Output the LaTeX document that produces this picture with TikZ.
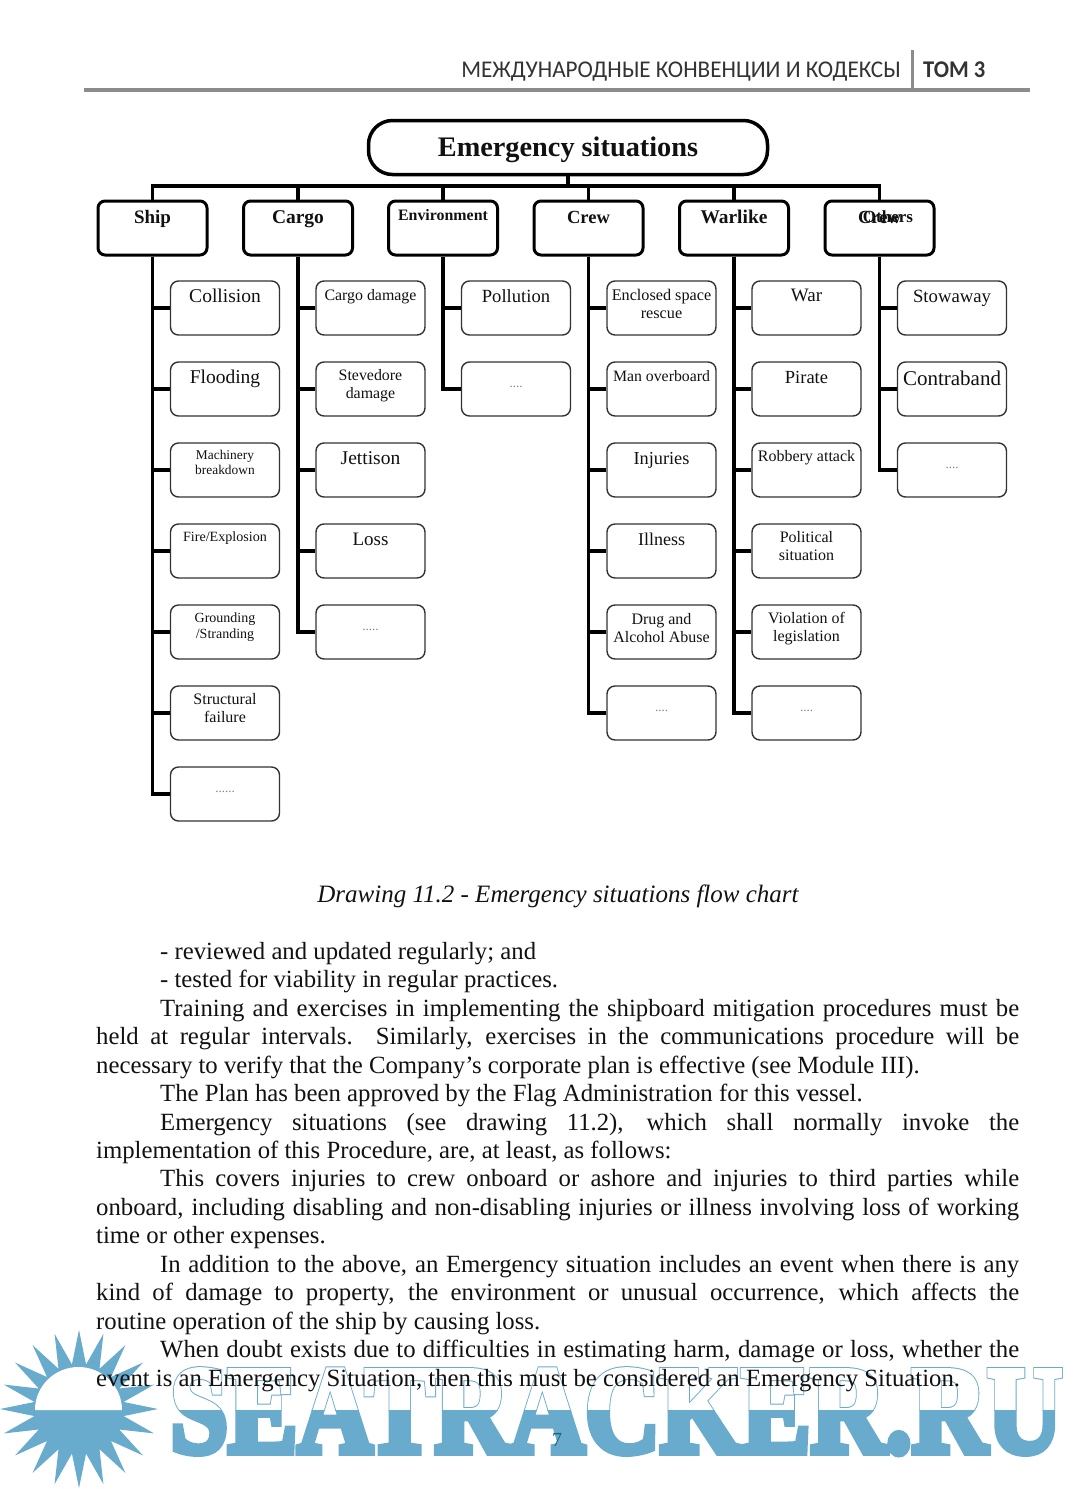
\documentclass[tikz,border=0pt]{standalone}
\usepackage{fontspec}
\setmainfont{Liberation Serif}
\newfontfamily\headfont{Carlito}
\newfontfamily\markthick[FakeBold=6]{Liberation Serif Bold}
\newfontfamily\markthin[FakeBold=4.4]{Liberation Serif Bold}
\usetikzlibrary{shapes.geometric}
\definecolor{inkblack}{HTML}{111111}
\definecolor{boxgrey}{HTML}{333333}
\definecolor{rulegrey}{HTML}{8C8C8C}
\definecolor{markblue}{HTML}{69ABCD}
\definecolor{markdark}{HTML}{1F5F80}
\newcommand{\tops}[3]{\parbox[c][54pt][t]{106pt}{\centering\fontsize{#1}{#1}\selectfont\baselineskip=1.15\baselineskip\rule{0pt}{#2pt}#3}}
\newcommand{\pxfont}[2]{\fontsize{#1}{#2}\selectfont}
\newcommand{\dotsbox}[1]{\tops{13}{25}{\textcolor{gray}{#1}}}
\tikzset{
  rootbox/.style = {rounded corners=24pt, draw=black, line width=3.5pt, inner sep=0pt,
                    minimum width=399pt, minimum height=54pt, text=inkblack,
                    text height=18pt, text depth=1pt, font=\pxfont{28.3}{32}\bfseries},
  catbox/.style  = {rounded corners=7pt, draw=black, line width=3pt, inner sep=0pt,
                    minimum width=109pt, minimum height=53pt, text=inkblack, font=\bfseries},
  subbox/.style  = {rounded corners=8pt, draw=boxgrey, line width=1.4pt, inner sep=0pt,
                    minimum width=109pt, minimum height=54pt, text=inkblack},
  trunk/.style   = {draw=black, line width=3.4pt},
  buswire/.style = {draw=black, line width=3.4pt},
  markword/.style = {anchor=base west, inner sep=0pt, xscale=0.84, transform shape},
  bodytext/.style = {text=inkblack, inner sep=0pt, text width=923pt, align=justify,
                    font=\pxfont{24.75}{28.45}},
}
\begin{document}
\begin{tikzpicture}[x=1pt,y=-1pt]
  \useasboundingbox (0,0) rectangle (1080,1489);
  % watermark
  \node[star, star points=20, star point ratio=1.75, fill=markblue, inner sep=0pt, minimum size=158pt] (sun) at (79,1409) {};
  \fill[white] (35,1410) arc[start angle=180, end angle=0, x radius=43.5pt, y radius=43pt] -- cycle;
  \begin{scope}
    \clip (150,1300) rectangle (1080,1410);
    \node[markword, text=markblue, font=\pxfont{124}{124}\markthick] (markup) at (170,1452) {SEATRACKER.RU};
    \node[markword, text=white, font=\pxfont{124}{124}\markthin] (markin) at (170,1452) {SEATRACKER.RU};
  \end{scope}
  \begin{scope}
    \clip (150,1410) rectangle (1080,1489);
    \node[markword, text=markblue, font=\pxfont{124}{124}\markthick] (marklow) at (170,1452) {SEATRACKER.RU};
  \end{scope}
  % running head
  \node[anchor=base east, inner sep=0pt, xscale=0.965, transform shape, font=\pxfont{24}{24}\headfont, text=boxgrey] (headl) at (901,77) {МЕЖДУНАРОДНЫЕ КОНВЕНЦИИ И КОДЕКСЫ};
  \node[anchor=base west, inner sep=0pt, xscale=0.94, transform shape, font=\pxfont{24}{24}\headfont\bfseries, text=boxgrey] (headr) at (923,77) {ТОМ 3};
  \coordinate (rulel) at (84,90);
  \coordinate (ruler) at (1030,90);
  \coordinate (barup) at (912,50);
  \draw[rulegrey, line width=3.6pt] (rulel) -- (ruler);
  \draw[rulegrey, line width=3pt] (barup) -- (barup |- rulel);
  % chart
  \node[rootbox] (root) at (568,147.5) {Emergency situations};
  \coordinate (bus) at (568,186);
  \node[catbox] (ship) at (152.5,228) {\tops{19}{22}{Ship}};
  \node[catbox] (cargo) at (298,228) {\tops{19.5}{22}{Cargo}};
  \node[catbox] (envir) at (443,228) {\tops{15.9}{19}{Environment}};
  \node[catbox] (crew) at (588.5,228) {\tops{18.5}{22}{Crew}};
  \node[catbox] (warlike) at (734,228) {\tops{19.4}{22}{Warlike}};
  \node[catbox] (others) at (879.5,228) {\tops{18.5}{22}{Crew}};
  \node[catbox, draw=none, fill=none] (otherstag) at (888,228) {\tops{17}{21}{Others}};
  \draw[buswire] (root.south) -- (bus);
  \draw[buswire] (ship.north) |- (bus) -| (others.north);
  \draw[buswire] (cargo.north) -- (cargo.north |- bus);
  \draw[buswire] (envir.north) -- (envir.north |- bus);
  \draw[buswire] (crew.north) -- (crew.north |- bus);
  \draw[buswire] (warlike.north) -- (warlike.north |- bus);
  % ship
  \node[subbox] (ship1) at (225,308) {\tops{19.5}{21}{Collision}};
  \node[subbox] (ship2) at (225,389) {\tops{19.5}{21}{Flooding}};
  \node[subbox] (ship3) at (225,470) {\tops{13.4}{16}{Machinery\\breakdown}};
  \node[subbox] (ship4) at (225,551) {\tops{14.1}{17}{Fire/Explosion}};
  \node[subbox] (ship5) at (225,632) {\tops{14}{17}{Grounding\\/Stranding}};
  \node[subbox] (ship6) at (225,713) {\tops{16}{18}{Structural\\failure}};
  \node[subbox] (ship7) at (225,794) {\dotsbox{......}};
  \draw[trunk] (ship.south) |- (ship1.west);
  \draw[trunk] (ship.south) |- (ship2.west);
  \draw[trunk] (ship.south) |- (ship3.west);
  \draw[trunk] (ship.south) |- (ship4.west);
  \draw[trunk] (ship.south) |- (ship5.west);
  \draw[trunk] (ship.south) |- (ship6.west);
  \draw[trunk] (ship.south) |- (ship7.west);
  % cargo
  \node[subbox] (cargo1) at (370.5,308) {\tops{15.9}{19}{Cargo damage}};
  \node[subbox] (cargo2) at (370.5,389) {\tops{15.9}{18}{Stevedore\\damage}};
  \node[subbox] (cargo3) at (370.5,470) {\tops{19.5}{21}{Jettison}};
  \node[subbox] (cargo4) at (370.5,551) {\tops{19}{21}{Loss}};
  \node[subbox] (cargo5) at (370.5,632) {\dotsbox{.....}};
  \draw[trunk] (cargo.south) |- (cargo1.west);
  \draw[trunk] (cargo.south) |- (cargo2.west);
  \draw[trunk] (cargo.south) |- (cargo3.west);
  \draw[trunk] (cargo.south) |- (cargo4.west);
  \draw[trunk] (cargo.south) |- (cargo5.west);
  % environment
  \node[subbox] (envir1) at (516,308) {\tops{18.6}{21}{Pollution}};
  \node[subbox] (envir2) at (516,389) {\dotsbox{....}};
  \draw[trunk] (envir.south) |- (envir1.west);
  \draw[trunk] (envir.south) |- (envir2.west);
  % crew
  \node[subbox] (crew1) at (661.5,308) {\tops{16.2}{19}{Enclosed space\\rescue}};
  \node[subbox] (crew2) at (661.5,389) {\tops{15.8}{19}{Man overboard}};
  \node[subbox] (crew3) at (661.5,470) {\tops{18.3}{21}{Injuries}};
  \node[subbox] (crew4) at (661.5,551) {\tops{18}{21}{Illness}};
  \node[subbox] (crew5) at (661.5,632) {\tops{16}{19}{Drug and\\Alcohol Abuse}};
  \node[subbox] (crew6) at (661.5,713) {\dotsbox{....}};
  \draw[trunk] (crew.south) |- (crew1.west);
  \draw[trunk] (crew.south) |- (crew2.west);
  \draw[trunk] (crew.south) |- (crew3.west);
  \draw[trunk] (crew.south) |- (crew4.west);
  \draw[trunk] (crew.south) |- (crew5.west);
  \draw[trunk] (crew.south) |- (crew6.west);
  % warlike
  \node[subbox] (warlike1) at (806.5,308) {\tops{19}{20}{War}};
  \node[subbox] (warlike2) at (806.5,389) {\tops{18.5}{21}{Pirate}};
  \node[subbox] (warlike3) at (806.5,470) {\tops{16}{18}{Robbery attack}};
  \node[subbox] (warlike4) at (806.5,551) {\tops{16}{18}{Political\\situation}};
  \node[subbox] (warlike5) at (806.5,632) {\tops{16}{18}{Violation of\\legislation}};
  \node[subbox] (warlike6) at (806.5,713) {\dotsbox{....}};
  \draw[trunk] (warlike.south) |- (warlike1.west);
  \draw[trunk] (warlike.south) |- (warlike2.west);
  \draw[trunk] (warlike.south) |- (warlike3.west);
  \draw[trunk] (warlike.south) |- (warlike4.west);
  \draw[trunk] (warlike.south) |- (warlike5.west);
  \draw[trunk] (warlike.south) |- (warlike6.west);
  % others
  \node[subbox] (others1) at (952,308) {\tops{18.7}{21}{Stowaway}};
  \node[subbox] (others2) at (952,389) {\tops{21}{23}{Contraband}};
  \node[subbox] (others3) at (952,470) {\dotsbox{....}};
  \draw[trunk] (others.south) |- (others1.west);
  \draw[trunk] (others.south) |- (others2.west);
  \draw[trunk] (others.south) |- (others3.west);
  % caption and page text
  \node[anchor=base, inner sep=0pt, text=inkblack, font=\pxfont{25}{28}\itshape] (caption) at (558,902) {Drawing 11.2 - Emergency situations flow chart};
  \node[bodytext, anchor=north west] (page) at (96,942) {\hyphenpenalty=10000 %
\hspace*{64pt}- reviewed and updated regularly; and\par
\hspace*{64pt}- tested for viability in regular practices.\par
\hspace*{64pt}Training and exercises in implementing the shipboard mitigation procedures must be\linebreak held at regular intervals.\ \ Similarly, exercises in the communications procedure will be\linebreak necessary to verify that the Company’s corporate plan is effective (see Module III).\par
\hspace*{64pt}The Plan has been approved by the Flag Administration for this vessel.\par
\hspace*{64pt}Emergency situations (see drawing 11.2), which shall normally invoke the\linebreak implementation of this Procedure, are, at least, as follows:\par
\hspace*{64pt}This covers injuries to crew onboard or ashore and injuries to third parties while\linebreak onboard, including disabling and non-disabling injuries or illness involving loss of working\linebreak time or other expenses.\par
\hspace*{64pt}In addition to the above, an Emergency situation includes an event when there is any\linebreak kind of damage to property, the environment or unusual occurrence, which affects the\linebreak routine operation of the ship by causing loss.\par
\hspace*{64pt}When doubt exists due to difficulties in estimating harm, damage or loss, whether the\linebreak event is an Emergency Situation, then this must be considered an Emergency Situation.\par};
  \node[inner sep=0pt, text=markdark, font=\pxfont{20}{20}] (pageno) at (557,1440) {7};
\end{tikzpicture}
\end{document}
